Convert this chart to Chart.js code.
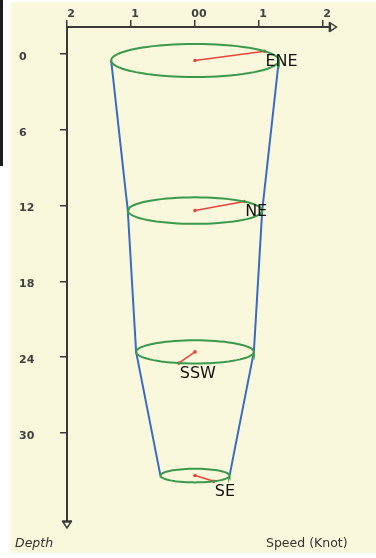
<!DOCTYPE html>
<html>
<head>
<meta charset="utf-8">
<script src="https://cdn.jsdelivr.net/npm/chart.js@4/dist/chart.umd.min.js"></script>
<style>
  body { margin: 0; background: #fff; width: 376px; height: 558px; overflow: hidden; }
  #bar { position: absolute; left: 0; top: 0; width: 3px; height: 166px; background: #1c1c1c; }
  #panel { position: absolute; left: 11px; top: 2px; width: 365px; height: 551px; background: #faf8dc; }
  #c { position: absolute; left: 0; top: 0; }
  .cap { position: absolute; top: 533px; font: 12.5px "DejaVu Sans", sans-serif; color: #333; }
</style>
</head>
<body>
<div id="bar"></div>
<div id="panel">
  <canvas id="c" width="365" height="551"></canvas>
  <div class="cap" style="left:4px;font-style:italic">Depth</div>
  <div class="cap" style="left:255px">Speed (Knot)</div>
</div>
<script>
// current profile
const depths = [0.5, 12.4, 23.6, 33.4];          // depth of each level
const speeds = [1.31, 1.05, 0.92, 0.54];         // knots
const bearings = [56, 47, 196, 147];             // degrees from north
const directions = ["ENE", "NE", "SSW", "SE"];

const xTicks = [-2, -1, 0, 1, 2];
const xTickLabels = ["2", "1", "00", "1", "2"];
const yTicks = [0, 6, 12, 18, 24, 30];

const green = "#3a994c";
const blue = "#3a6bc4";
const red = "#e8443e";
const axisColor = "#3a3a3a";

// ellipse = circle of radius "speed" in data units around (0, depth)
function ring(speed, depth) {
  const pts = [];
  for (let i = 0; i <= 72; i++) {
    const t = i / 72 * Math.PI * 2;
    pts.push({ x: speed * Math.cos(t), y: depth + speed * Math.sin(t) });
  }
  return pts;
}

function tip(i) {
  const b = bearings[i] * Math.PI / 180;
  return { x: speeds[i] * Math.sin(b), y: depths[i] - speeds[i] * Math.cos(b) };
}

const datasets = [];
depths.forEach((d, i) => {
  datasets.push({
    data: ring(speeds[i], d), borderColor: green, borderWidth: 2,
    pointRadius: 0, showLine: true, tension: 0
  });
});
datasets.push({
  data: depths.map((d, i) => ({ x: -speeds[i], y: d })),
  borderColor: blue, borderWidth: 2, pointRadius: 0, showLine: true
});
datasets.push({
  data: depths.map((d, i) => ({ x: speeds[i], y: d })),
  borderColor: blue, borderWidth: 2, pointRadius: 0, showLine: true
});
depths.forEach((d, i) => {
  datasets.push({
    data: [{ x: 0, y: d }, tip(i)],
    borderColor: red, backgroundColor: red, borderWidth: 1.5,
    pointRadius: 1.8, pointBorderWidth: 0, showLine: true
  });
});

const axisArrows = {
  id: "axisArrows",
  afterDraw(chart) {
    const { ctx, chartArea: a } = chart;
    ctx.save();
    ctx.strokeStyle = axisColor;
    ctx.lineWidth = 1.5;
    // right end of the top axis
    ctx.beginPath();
    ctx.moveTo(a.right, a.top - 5); ctx.lineTo(a.right, a.top + 5);
    ctx.moveTo(a.right + 1, a.top - 4); ctx.lineTo(a.right + 7, a.top);
    ctx.lineTo(a.right + 1, a.top + 4); ctx.closePath();
    ctx.stroke();
    // bottom end of the depth axis
    ctx.beginPath();
    ctx.moveTo(a.left - 5, a.bottom); ctx.lineTo(a.left + 5, a.bottom);
    ctx.moveTo(a.left - 4, a.bottom + 1); ctx.lineTo(a.left, a.bottom + 7);
    ctx.lineTo(a.left + 4, a.bottom + 1); ctx.closePath();
    ctx.stroke();
    ctx.restore();
  }
};

const dirLabels = {
  id: "dirLabels",
  afterDatasetsDraw(chart) {
    const { ctx, scales } = chart;
    ctx.save();
    ctx.font = '16px "DejaVu Sans", sans-serif';
    ctx.fillStyle = "#111";
    ctx.textAlign = "left";
    ctx.textBaseline = "middle";
    directions.forEach((name, i) => {
      const p = tip(i);
      const px = scales.x.getPixelForValue(p.x);
      const py = scales.y.getPixelForValue(p.y);
      ctx.fillText(name, px + 1, py + 10.5);
    });
    ctx.restore();
  }
};

const tickFont = { family: "DejaVu Sans", size: 11, weight: "bold" };

new Chart(document.getElementById("c"), {
  type: "scatter",
  data: { datasets },
  plugins: [axisArrows, dirLabels],
  options: {
    responsive: false,
    animation: false,
    layout: { padding: { left: 8, top: 0, right: 46.6, bottom: 32 } },
    plugins: { legend: { display: false }, tooltip: { enabled: false } },
    scales: {
      x: {
        type: "linear", position: "top", min: -2, max: 2.1,
        afterBuildTicks: s => { s.ticks = xTicks.map(v => ({ value: v })); },
        afterFit: s => { s.height = 25; },
        ticks: {
          color: "#404040", padding: -1, labelOffset: 4, font: tickFont,
          callback: v => xTickLabels[xTicks.indexOf(v)]
        },
        grid: { drawOnChartArea: false, drawTicks: true, tickLength: 7, color: axisColor, lineWidth: 1.5 },
        border: { display: true, color: axisColor, width: 2 }
      },
      y: {
        type: "linear", position: "left", reverse: true, min: -2.15, max: 37,
        afterBuildTicks: s => { s.ticks = yTicks.map(v => ({ value: v })); },
        afterFit: s => { s.width = 48; },
        ticks: { color: "#404040", crossAlign: "far", labelOffset: 3, font: tickFont },
        grid: { drawOnChartArea: false, drawTicks: true, tickLength: 7, color: axisColor, lineWidth: 1.5 },
        border: { display: true, color: axisColor, width: 2 }
      }
    }
  }
});
</script>
</body>
</html>
